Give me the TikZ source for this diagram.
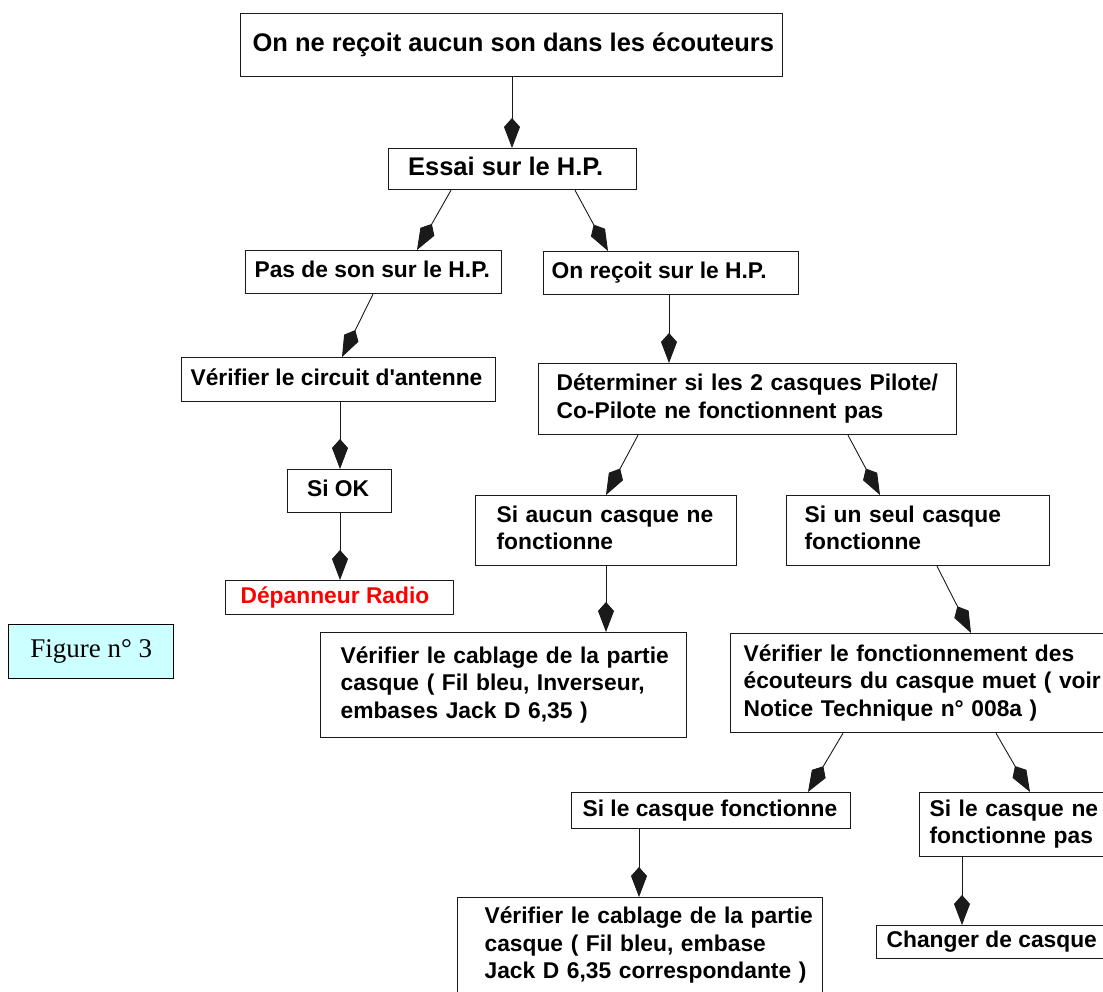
\documentclass[tikz,border=0pt]{standalone}
\usepackage{fontspec}
\setmainfont{Liberation Sans}
\newfontfamily\figserif{Liberation Serif}
\usetikzlibrary{arrows.meta}
\definecolor{figcyan}{HTML}{CCFFFF}
\definecolor{linegray}{HTML}{1A1A1A}
\newcommand\padtext[3]{\makebox[#1][l]{\hspace*{#2}\strut #3}}
\begin{document}
\begin{tikzpicture}[x=1pt,y=-1pt,
  box/.style={draw=linegray, line width=1.2pt, fill=white, anchor=north west, inner ysep=0pt, font=\fontsize{22.8}{27.5}\selectfont\bfseries},
  mb/.style n args={3}{box, align=left, text width=#1, minimum width=#1, minimum height=#2, inner xsep=0pt, execute at begin node={\leftskip=#3\relax\strut}, execute at end node={\strut}},
  sb/.style n args={2}{box, minimum width=#1, minimum height=#2, inner xsep=0pt},
  big/.style={font=\fontsize{25.5}{30}\selectfont\bfseries},
  conn/.style={draw=linegray, line width=0.9pt, -{Kite[length=30pt,width=16pt,inset=9pt]}},
  figbox/.style={draw=black, line width=1.4pt, fill=figcyan, anchor=north west, minimum width=165pt, minimum height=54pt, inner sep=0pt, font=\figserif\fontsize{27}{32}\selectfont}
]
\useasboundingbox (0,0) rectangle (1103,991);
\fill[white] (0,0) rectangle (1103,991);
\clip (0,0) rectangle (1103,991);

% nodes
\node[sb={542pt}{63pt}, big] (a) at (240,13) {\padtext{542pt}{12pt}{On ne reçoit aucun son dans les écouteurs}};
\node[sb={248pt}{41pt}, big] (b) at (388,148) {\padtext{248pt}{19.5pt}{Essai sur le H.P.}};
\node[sb={256pt}{43pt}] (c) at (245,250) {\padtext{256pt}{9pt}{Pas de son sur le H.P.}};
\node[sb={255pt}{43pt}] (d) at (543,251) {\padtext{255pt}{8pt}{On reçoit sur le H.P.}};
\node[sb={314pt}{44pt}] (e) at (181,357) {\padtext{314pt}{9pt}{Vérifier le circuit d\textquotesingle antenne}};
\node[mb={418pt}{71pt}{18pt}] (f) at (538,363) {Déterminer si les 2 casques Pilote/\\Co-Pilote ne fonctionnent pas};
\node[sb={104pt}{43pt}] (g) at (287,469) {\padtext{104pt}{19.5pt}{Si OK}};
\node[sb={228pt}{34pt}, text=red] (h) at (225,580) {\padtext{228pt}{15pt}{Dépanneur Radio}};
\node[mb={261pt}{70pt}{21pt}] (i) at (475,495) {Si aucun casque ne\\fonctionne};
\node[mb={263pt}{70pt}{18pt}] (j) at (786,495) {Si un seul casque\\fonctionne};
\node[mb={366pt}{105pt}{20pt}] (k) at (320,632) {Vérifier le cablage de la partie\\casque ( Fil bleu, Inverseur,\\embases Jack D 6,35 )};
\node[mb={400pt}{99pt}{13pt}] (l) at (730,633) {Vérifier le fonctionnement des\\écouteurs du casque muet ( voir\\Notice Technique n° 008a )};
\node[sb={279pt}{36pt}] (m) at (571,792) {\padtext{279pt}{11pt}{Si le casque fonctionne}};
\node[mb={200pt}{64pt}{10pt}] (n) at (919,792) {Si le casque ne\\fonctionne pas};
\node[mb={365pt}{102pt}{27pt}] (o) at (457,897) {Vérifier le cablage de la partie\\casque ( Fil bleu, embase\\Jack D 6,35 correspondante )\vspace*{6pt}};
\node[sb={240pt}{33pt}] (p) at (876,925) {\padtext{240pt}{10pt}{Changer de casque}};
\node[figbox] (fig) at (8,624) {Figure n° 3};

% connectors
\draw[conn] ([xshift=272pt]a.south west) -- ([xshift=124pt]b.north west);
\draw[conn] ([xshift=63pt]b.south west) -- ([xshift=172pt]c.north west);
\draw[conn] ([xshift=187pt]b.south west) -- ([xshift=65pt]d.north west);
\draw[conn] ([xshift=128pt]c.south west) -- ([xshift=161pt]e.north west);
\draw[conn] ([xshift=126pt]d.south west) -- ([xshift=131pt]f.north west);
\draw[conn] ([xshift=159pt]e.south west) -- ([xshift=53pt]g.north west);
\draw[conn] ([xshift=53pt]g.south west) -- ([xshift=115pt]h.north west);
\draw[conn] ([xshift=100pt]f.south west) -- ([xshift=131pt]i.north west);
\draw[conn] ([xshift=310pt]f.south west) -- ([xshift=94pt]j.north west);
\draw[conn] ([xshift=131pt]i.south west) -- ([xshift=286pt]k.north west);
\draw[conn] ([xshift=151pt]j.south west) -- ([xshift=241pt]l.north west);
\draw[conn] ([xshift=113pt]l.south west) -- ([xshift=237pt]m.north west);
\draw[conn] ([xshift=266pt]l.south west) -- ([xshift=111pt]n.north west);
\draw[conn] ([xshift=68pt]m.south west) -- ([xshift=182pt]o.north west);
\draw[conn] ([xshift=43pt]n.south west) -- ([xshift=86pt]p.north west);
\end{tikzpicture}
\end{document}
